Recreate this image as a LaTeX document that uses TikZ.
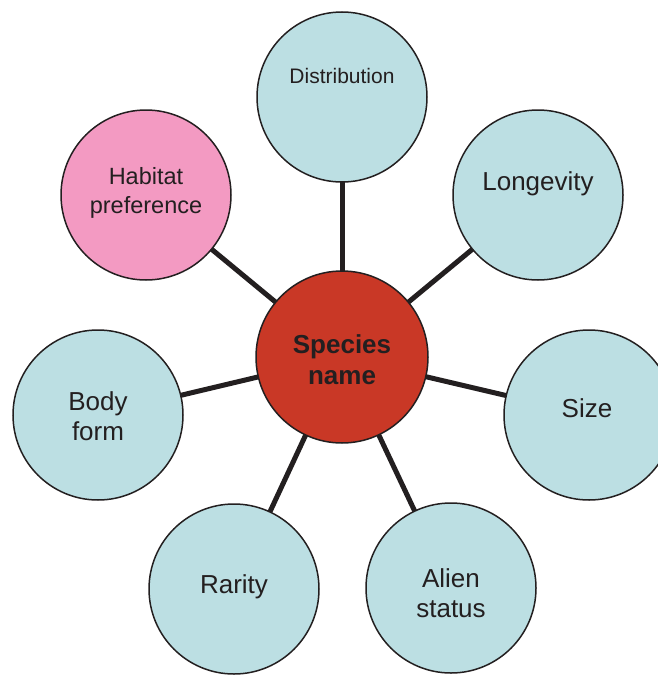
\documentclass[tikz,border=0pt]{standalone}
\usepackage{fontspec}
\setmainfont{Liberation Sans}
\definecolor{ink}{RGB}{35,31,32}
\definecolor{bubbleblue}{RGB}{188,223,227}
\definecolor{bubblepink}{RGB}{243,154,194}
\definecolor{hubred}{RGB}{201,56,38}
\pgfdeclarelayer{back}
\pgfsetlayers{back,main}
\tikzset{
  bubble/.style={circle, draw=ink, line width=1.5pt, fill=bubbleblue,
    minimum size=170pt, inner sep=0pt},
  hub/.style={bubble, fill=hubred, minimum size=172pt},
  spoke/.style={draw=ink, line width=5pt},
  lbl/.style={text=ink, align=center, anchor=base, inner sep=0pt,
    font=\fontsize{26}{29.5}\selectfont},
}
\begin{document}
\begin{tikzpicture}[x=1pt, y=-1pt]
  \useasboundingbox (0,0) rectangle (658,677);
  \clip (0,0) rectangle (658,677);

  % hub and the seven surrounding bubbles
  \node[hub]    (hub)  at (342,357) {};
  \node[bubble] (dist) at (342,97)  {};
  \node[bubble, fill=bubblepink] (hab) at (146,195) {};
  \node[bubble] (lon)  at (538,195) {};
  \node[bubble] (body) at (98,415)  {};
  \node[bubble] (size) at (589,415) {};
  \node[bubble] (rar)  at (234,589) {};
  \node[bubble] (ali)  at (451,588) {};

  % spokes, kept behind the bubbles
  \begin{pgfonlayer}{back}
    \foreach \n in {dist,hab,lon,body,size,rar,ali}
      \draw[spoke] (hub.center) -- (\n.center);
  \end{pgfonlayer}

  % labels (base anchor sits on the last line)
  \node[lbl, font=\fontsize{21}{24}\selectfont] (tdist) at (342,83) {Distribution};
  \node[lbl, font=\fontsize{23.5}{29}\selectfont] (thab) at (146,213) {Habitat\\preference};
  \node[lbl] (tlon)  at (538,190) {Longevity};
  \node[lbl] (tbody) at (98,440)  {Body\\form};
  \node[lbl] (tsize) at (587,417) {Size};
  \node[lbl] (trar)  at (234,593) {Rarity};
  \node[lbl] (tali)  at (451,617) {Alien\\status};
  \node[lbl, font=\bfseries\fontsize{26}{31}\selectfont] (thub) at (342,384) {Species\\name};
\end{tikzpicture}
\end{document}
